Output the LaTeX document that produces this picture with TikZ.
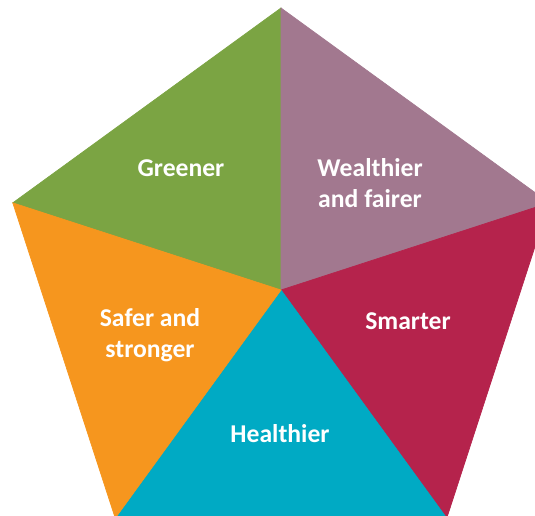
\documentclass[tikz,border=0pt]{standalone}
\usepackage{fontspec}
\setmainfont{Carlito}
\usepackage{tikz}
\usetikzlibrary{calc}
\definecolor{greener}{RGB}{123, 164, 67}
\definecolor{wealthier}{RGB}{162, 120, 143}
\definecolor{smarter}{RGB}{181, 35, 76}
\definecolor{healthier}{RGB}{0, 170, 196}
\definecolor{safer}{RGB}{246, 150, 30}

\tikzset{
  sector/.style={line width=0.4pt, line join=miter},
  label/.style={text=white, font=\fontsize{14.6}{17.5}\selectfont\bfseries, align=center}
}

\begin{document}
\begin{tikzpicture}[x=0.02cm, y=-0.02cm]
        \useasboundingbox (0,0) rectangle (535,515);
        \clip (0,0) rectangle (535,515);

        % Pentagon centre and corners
        \coordinate (c) at (281,290);
        \coordinate (top) at ($(c)+(-90:282)$);
        \coordinate (right) at ($(c)+(-18:282)$);
        \coordinate (botright) at ($(c)+(54:282)$);
        \coordinate (botleft) at ($(c)+(126:282)$);
        \coordinate (left) at ($(c)+(198:282)$);

        % Sectors
        \filldraw[sector, fill=greener, draw=greener] (c) -- (left) -- (top) -- cycle;
        \filldraw[sector, fill=wealthier, draw=wealthier] (c) -- (top) -- (right) -- cycle;
        \filldraw[sector, fill=smarter, draw=smarter] (c) -- (right) -- (botright) -- cycle;
        \filldraw[sector, fill=healthier, draw=healthier] (c) -- (botright) -- (botleft) -- cycle;
        \filldraw[sector, fill=safer, draw=safer] (c) -- (botleft) -- (left) -- cycle;

        % Labels
        \node[label] (greenerlbl) at (181,168) {Greener};
        \node[label] (wealthierlbl) at (370,183) {Wealthier\\and fairer};
        \node[label] (smarterlbl) at (408,321) {Smarter};
        \node[label] (healthierlbl) at (280,434) {Healthier};
        \node[label] (saferlbl) at (150,335) {Safer and\\stronger};
    \end{tikzpicture}
\end{document}
